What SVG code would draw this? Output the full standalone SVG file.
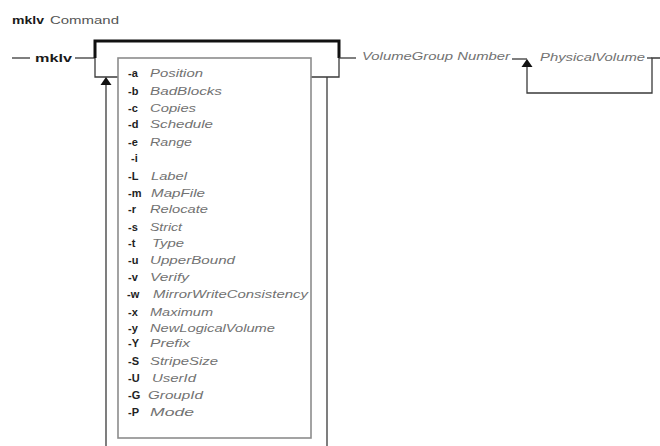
<svg xmlns="http://www.w3.org/2000/svg" xmlns:xlink="http://www.w3.org/1999/xlink" width="660" height="446" viewBox="0 0 660 446">
  <style>
    .cmd  { font: bold 11.5px "Liberation Sans", Arial, sans-serif; fill: #1a1a1a; }
    .lbl  { font: 11.5px "Liberation Sans", Arial, sans-serif; fill: #555; }
    .flag { font: bold 11px "Liberation Sans", Arial, sans-serif; fill: #222; }
    .arg  { font: italic 11.5px "Liberation Sans", Arial, sans-serif; fill: #727272; }
    .wire { fill: none; stroke: #3a3a3a; stroke-width: 1.3; }
    .rail { fill: none; stroke: #111; stroke-width: 3; stroke-linejoin: miter; }
    .box  { fill: none; stroke: #8c8c8c; stroke-width: 1.6; }
  </style>
  <defs>
    <!-- upward repeat arrowhead, tip at origin -->
    <path id="up" d="M0,0 L5.5,8 L-5.5,8 Z" fill="#111"/>
  </defs>

  <rect width="660" height="446" fill="#fff"/>

  <!-- heading -->
  <g id="title">
    <text class="cmd" x="12" y="24" textLength="32" lengthAdjust="spacingAndGlyphs">mklv</text>
    <text class="lbl" x="50" y="24" textLength="69" lengthAdjust="spacingAndGlyphs">Command</text>
  </g>

  <!-- connectors -->
  <g id="connectors">
    <!-- entry line into command -->
    <path class="wire" d="M12,58 H30"/>
    <path class="wire" d="M75,58 H95"/>
    <!-- bold bypass rail over the option block -->
    <path class="rail" d="M95,58 V41 H339 V58"/>
    <!-- left side drop into option block and repeat return -->
    <path class="wire" d="M95,58 V77 H118"/>
    <path class="wire" d="M106,84 V446"/>
    <use xlink:href="#up" x="106" y="77"/>
    <!-- right side join from option block -->
    <path class="wire" d="M311,77 H339 V58"/>
    <path class="wire" d="M327,77 V446"/>
    <!-- main line onward -->
    <path class="wire" d="M339,58 H356"/>
    <path class="wire" d="M512,59 H527"/>
    <!-- PhysicalVolume repeat loop -->
    <path class="wire" d="M527,67 V93 H652 V58 H660"/>
    <path class="wire" d="M647,58 H652"/>
    <use xlink:href="#up" x="527" y="59"/>
  </g>

  <!-- command name -->
  <g id="node-mklv">
    <text class="cmd" x="35" y="62" textLength="37" lengthAdjust="spacingAndGlyphs">mklv</text>
  </g>

  <!-- option block -->
  <g id="node-options">
    <rect class="box" x="118" y="58" width="193" height="380"/>
    <text class="flag" x="128" y="77">-a</text><text class="arg" x="150" y="77" textLength="53" lengthAdjust="spacingAndGlyphs">Position</text>
    <text class="flag" x="128" y="95">-b</text><text class="arg" x="150" y="95" textLength="72" lengthAdjust="spacingAndGlyphs">BadBlocks</text>
    <text class="flag" x="128" y="112">-c</text><text class="arg" x="150" y="112" textLength="46" lengthAdjust="spacingAndGlyphs">Copies</text>
    <text class="flag" x="128" y="128">-d</text><text class="arg" x="150" y="128" textLength="63" lengthAdjust="spacingAndGlyphs">Schedule</text>
    <text class="flag" x="128" y="146">-e</text><text class="arg" x="150" y="146" textLength="42" lengthAdjust="spacingAndGlyphs">Range</text>
    <text class="flag" x="131" y="162">-i</text>
    <text class="flag" x="128" y="180">-L</text><text class="arg" x="151" y="180" textLength="36" lengthAdjust="spacingAndGlyphs">Label</text>
    <text class="flag" x="128" y="197">-m</text><text class="arg" x="151" y="197" textLength="54" lengthAdjust="spacingAndGlyphs">MapFile</text>
    <text class="flag" x="128" y="213">-r</text><text class="arg" x="150" y="213" textLength="58" lengthAdjust="spacingAndGlyphs">Relocate</text>
    <text class="flag" x="128" y="231">-s</text><text class="arg" x="150" y="231" textLength="32" lengthAdjust="spacingAndGlyphs">Strict</text>
    <text class="flag" x="128" y="247">-t</text><text class="arg" x="152" y="247" textLength="32" lengthAdjust="spacingAndGlyphs">Type</text>
    <text class="flag" x="128" y="264">-u</text><text class="arg" x="150" y="264" textLength="85" lengthAdjust="spacingAndGlyphs">UpperBound</text>
    <text class="flag" x="128" y="281">-v</text><text class="arg" x="150" y="281" textLength="39" lengthAdjust="spacingAndGlyphs">Verify</text>
    <text class="flag" x="127" y="298">-w</text><text class="arg" x="153" y="298" textLength="155" lengthAdjust="spacingAndGlyphs">MirrorWriteConsistency</text>
    <text class="flag" x="128" y="316">-x</text><text class="arg" x="150" y="316" textLength="63" lengthAdjust="spacingAndGlyphs">Maximum</text>
    <text class="flag" x="128" y="332">-y</text><text class="arg" x="150" y="332" textLength="125" lengthAdjust="spacingAndGlyphs">NewLogicalVolume</text>
    <text class="flag" x="128" y="347">-Y</text><text class="arg" x="150" y="347" textLength="40" lengthAdjust="spacingAndGlyphs">Prefix</text>
    <text class="flag" x="128" y="365">-S</text><text class="arg" x="150" y="365" textLength="68" lengthAdjust="spacingAndGlyphs">StripeSize</text>
    <text class="flag" x="128" y="382">-U</text><text class="arg" x="152" y="382" textLength="44" lengthAdjust="spacingAndGlyphs">UserId</text>
    <text class="flag" x="128" y="399">-G</text><text class="arg" x="148" y="399" textLength="55" lengthAdjust="spacingAndGlyphs">GroupId</text>
    <text class="flag" x="128" y="416">-P</text><text class="arg" x="150" y="416" textLength="44" lengthAdjust="spacingAndGlyphs">Mode</text>
  </g>

  <!-- positional operands -->
  <g id="node-volumegroup">
    <text class="arg" x="362" y="60" textLength="148" lengthAdjust="spacingAndGlyphs">VolumeGroup Number</text>
  </g>
  <g id="node-physicalvolume">
    <text class="arg" x="540" y="61" textLength="105" lengthAdjust="spacingAndGlyphs">PhysicalVolume</text>
  </g>
</svg>
